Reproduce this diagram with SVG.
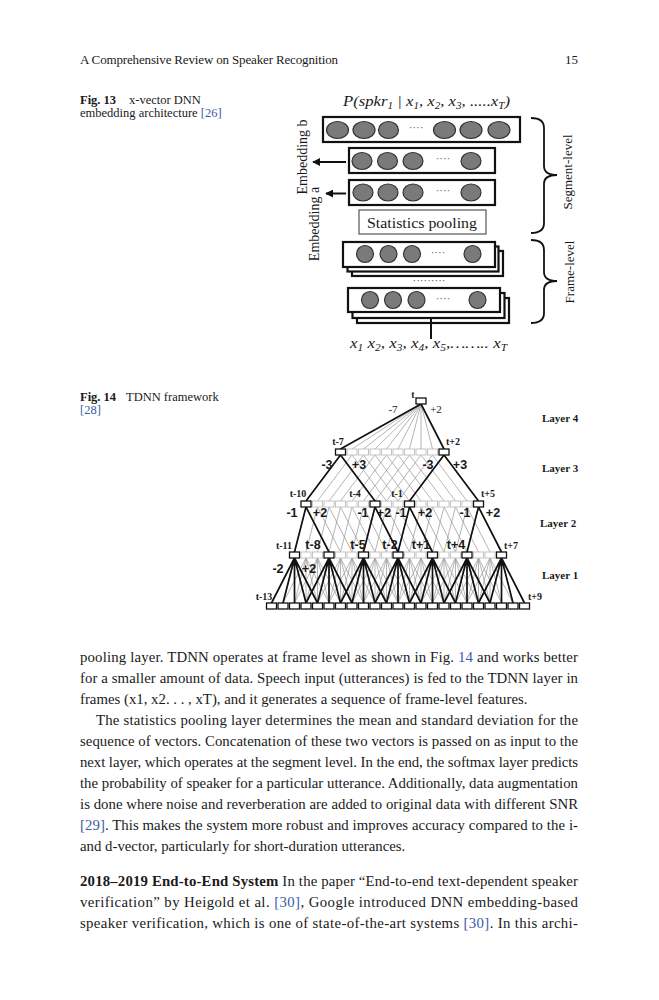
<svg xmlns="http://www.w3.org/2000/svg" width="659" height="1000" viewBox="0 0 659 1000">
<defs>
<style>
text{font-family:"Liberation Serif","Times New Roman",serif;fill:#1a1a1a}
.hdr{font-size:13px}
.cap{font-size:12.5px}
.bd{font-size:14.8px}
.b{font-weight:bold}
.lnk{fill:#3b5ba5}
.box{fill:#fff;stroke:#111;stroke-width:2.2}
.sp{fill:#fff;stroke:#555;stroke-width:1.2}
.el{fill:#7a7a7a;stroke:#333;stroke-width:1.2}
.dt{font-size:11px;fill:#555}
.brace{fill:none;stroke:#111;stroke-width:1.8}
.arr{stroke:#111;stroke-width:2;marker-end:url(#ah)}
.it{font-style:italic;font-size:15px}
.vt{font-size:14px}
.vs{font-size:13px}
.gl{stroke:#9c9c9c;stroke-width:0.75;fill:none}
.bl{stroke:#111;stroke-width:1.7;fill:none}
.gn{fill:#fff;stroke:#c4c4c4;stroke-width:1}
.bn{fill:#fff;stroke:#111;stroke-width:1.3}
.ls{font-family:"Liberation Sans",Arial,sans-serif;font-weight:bold;font-size:12.5px;text-anchor:middle}
.ss{font-weight:bold;font-size:10px;text-anchor:middle}
.sr{font-size:11px;text-anchor:middle}
.lay{font-weight:bold;font-size:11px}
</style>
<marker id="ah" viewBox="0 0 10 10" refX="9" refY="5" markerWidth="4" markerHeight="4" orient="auto"><path d="M0,0 L10,5 L0,10 z" fill="#111"/></marker>
<path id="f3" d="M0,0 L-34.5,46 M0,0 L34.5,46"/>
<path id="f2" d="M0,0 L-11.5,45 M0,0 L23,45"/>
<path id="f1" d="M0,0 L-23,45 M0,0 L-11.5,45 M0,0 L0,45 M0,0 L11.5,45 M0,0 L23,45"/>
<rect id="nd" x="-5" y="-3" width="10" height="6"/>
</defs>
<rect width="659" height="1000" fill="#fff"/>

<!-- page header -->
<g id="header">
<text class="hdr" x="80" y="64" textLength="258" lengthAdjust="spacing">A Comprehensive Review on Speaker Recognition</text>
<text class="hdr" x="578" y="64" text-anchor="end">15</text>
</g>

<!-- Fig 13 caption -->
<g id="cap13">
<text class="cap" x="80" y="104"><tspan class="b">Fig. 13</tspan><tspan x="129">x-vector DNN</tspan></text>
<text class="cap" x="80" y="117">embedding architecture <tspan class="lnk">[26]</tspan></text>
</g>

<!-- Fig 13 diagram -->
<g id="fig13">
<g id="title13"><text class="it" x="343" y="106" textLength="167" lengthAdjust="spacingAndGlyphs">P(spkr<tspan font-size="10" dy="3">1</tspan><tspan dy="-3">  | x</tspan><tspan font-size="10" dy="3">1</tspan><tspan dy="-3">, x</tspan><tspan font-size="10" dy="3">2</tspan><tspan dy="-3">, x</tspan><tspan font-size="10" dy="3">3</tspan><tspan dy="-3">, .....x</tspan><tspan font-size="10" dy="3">T</tspan><tspan dy="-3">)</tspan></text></g>

<g id="out-layer">
<rect class="box" x="323" y="117" width="197" height="25"/>
<ellipse class="el" cx="337.5" cy="130" rx="11" ry="8.5"/>
<ellipse class="el" cx="364" cy="130" rx="11" ry="8.5"/>
<ellipse class="el" cx="388.5" cy="130" rx="10" ry="8.5"/>
<text class="dt" x="416" y="131" text-anchor="middle">····</text>
<ellipse class="el" cx="444.5" cy="130" rx="11" ry="8.5"/>
<ellipse class="el" cx="471" cy="130" rx="11" ry="8.5"/>
<ellipse class="el" cx="499" cy="130" rx="11" ry="8.5"/>
</g>
<g id="emb-b">
<rect class="box" x="349" y="148" width="146" height="25"/>
<ellipse class="el" cx="362" cy="161" rx="10" ry="8.5"/>
<ellipse class="el" cx="387.5" cy="161" rx="10" ry="8.5"/>
<ellipse class="el" cx="413" cy="161" rx="10" ry="8.5"/>
<text class="dt" x="443" y="162" text-anchor="middle">····</text>
<ellipse class="el" cx="471" cy="161" rx="10" ry="8.5"/>
</g>
<g id="emb-a">
<rect class="box" x="349" y="180" width="146" height="25"/>
<ellipse class="el" cx="363" cy="192.5" rx="10" ry="8.5"/>
<ellipse class="el" cx="388" cy="192.5" rx="10" ry="8.5"/>
<ellipse class="el" cx="413" cy="192.5" rx="10" ry="8.5"/>
<text class="dt" x="443" y="194" text-anchor="middle">····</text>
<ellipse class="el" cx="471" cy="192.5" rx="10" ry="8.5"/>
</g>
<g id="stats-pooling">
<rect class="sp" x="359" y="210" width="127" height="24"/>
<text x="367" y="228" font-size="14.5" textLength="110" lengthAdjust="spacingAndGlyphs">Statistics pooling</text>
</g>
<g id="frame1">
<rect class="box" x="352" y="251" width="151" height="25"/>
<rect class="box" x="347.5" y="246.5" width="151" height="25"/>
<rect class="box" x="343" y="242" width="152" height="25"/>
<circle class="el" cx="365" cy="254" r="8.5"/>
<circle class="el" cx="388.5" cy="254" r="8.5"/>
<circle class="el" cx="412" cy="254" r="8.5"/>
<text class="dt" x="438" y="256" text-anchor="middle">····</text>
<circle class="el" cx="472.5" cy="254" r="8.5"/>
</g>
<text class="dt" x="429" y="284" text-anchor="middle">·········</text>
<g id="frame2">
<rect class="box" x="357" y="298" width="152" height="25"/>
<rect class="box" x="352.5" y="293" width="152" height="25"/>
<rect class="box" x="348" y="288" width="152" height="24"/>
<circle class="el" cx="370" cy="300" r="8.5"/>
<circle class="el" cx="393" cy="300" r="8.5"/>
<circle class="el" cx="416.5" cy="300" r="8.5"/>
<text class="dt" x="443" y="302" text-anchor="middle">····</text>
<circle class="el" cx="477.5" cy="300" r="8.5"/>
</g>
<g id="input13"><text class="it" x="350" y="348" textLength="157" lengthAdjust="spacingAndGlyphs">x<tspan font-size="10" dy="3">1</tspan><tspan dy="-3"> x</tspan><tspan font-size="10" dy="3">2</tspan><tspan dy="-3">, x</tspan><tspan font-size="10" dy="3">3</tspan><tspan dy="-3">, x</tspan><tspan font-size="10" dy="3">4</tspan><tspan dy="-3">, x</tspan><tspan font-size="10" dy="3">5</tspan><tspan dy="-3">,…….. x</tspan><tspan font-size="10" dy="3">T</tspan></text></g>

<g id="lbl-emb-b"><text class="vt" text-anchor="middle" transform="translate(307,157) rotate(-90)">Embedding b</text></g>
<g id="lbl-emb-a"><text class="vt" text-anchor="middle" transform="translate(319,224) rotate(-90)">Embedding a</text></g>
<g id="seg-level">
<path class="brace" d="M531,118 Q544,118 544,128 L544,166 Q544,175 557,175 Q544,175 544,184 L544,223 Q544,233 531,233"/>
<text class="vs" text-anchor="middle" transform="translate(572,172) rotate(-90)">Segment-level</text>
</g>
<g id="frame-level">
<path class="brace" d="M531,240 Q544,240 544,250 L544,272 Q544,281 557,281 Q544,281 544,290 L544,313 Q544,323 531,323"/>
<text class="vs" text-anchor="middle" transform="translate(574,272) rotate(-90)">Frame-level</text>
</g>
<g id="connectors13">
<line class="arr" x1="346" y1="162" x2="313" y2="162"/>
<line class="arr" x1="346" y1="193.5" x2="326" y2="193.5"/>
<line x1="431" y1="339" x2="431" y2="318" stroke="#111" stroke-width="2"/>
</g>
</g>

<!-- Fig 14 caption -->
<g id="cap14">
<text class="cap" x="80" y="401"><tspan class="b">Fig. 14</tspan><tspan x="126">TDNN framework</tspan></text>
<text class="cap lnk" x="80" y="414">[28]</text>
</g>

<!-- Fig 14 TDNN -->
<g id="fig14">
<g id="connectors14">
<g id="gray-lines">
<path class="gl" d="M421,404 L352,449 M421,404 L363.5,449 M421,404 L375,449 M421,404 L386.5,449 M421,404 L398,449 M421,404 L409.5,449 M421,404 L421,449 M421,404 L432.5,449"/>
<use href="#f3" class="gl" x="340.5" y="455"/><use href="#f3" class="gl" x="352" y="455"/><use href="#f3" class="gl" x="363.5" y="455"/><use href="#f3" class="gl" x="375" y="455"/><use href="#f3" class="gl" x="386.5" y="455"/><use href="#f3" class="gl" x="398" y="455"/><use href="#f3" class="gl" x="409.5" y="455"/><use href="#f3" class="gl" x="421" y="455"/><use href="#f3" class="gl" x="432.5" y="455"/><use href="#f3" class="gl" x="444" y="455"/>
<use href="#f2" class="gl" x="306" y="507"/><use href="#f2" class="gl" x="317.5" y="507"/><use href="#f2" class="gl" x="329" y="507"/><use href="#f2" class="gl" x="340.5" y="507"/><use href="#f2" class="gl" x="352" y="507"/><use href="#f2" class="gl" x="363.5" y="507"/><use href="#f2" class="gl" x="375" y="507"/><use href="#f2" class="gl" x="386.5" y="507"/><use href="#f2" class="gl" x="398" y="507"/><use href="#f2" class="gl" x="409.5" y="507"/><use href="#f2" class="gl" x="421" y="507"/><use href="#f2" class="gl" x="432.5" y="507"/><use href="#f2" class="gl" x="444" y="507"/><use href="#f2" class="gl" x="455.5" y="507"/><use href="#f2" class="gl" x="467" y="507"/><use href="#f2" class="gl" x="478.5" y="507"/>
<use href="#f1" class="gl" x="294.5" y="558"/><use href="#f1" class="gl" x="306" y="558"/><use href="#f1" class="gl" x="317.5" y="558"/><use href="#f1" class="gl" x="329" y="558"/><use href="#f1" class="gl" x="340.5" y="558"/><use href="#f1" class="gl" x="352" y="558"/><use href="#f1" class="gl" x="363.5" y="558"/><use href="#f1" class="gl" x="375" y="558"/><use href="#f1" class="gl" x="386.5" y="558"/><use href="#f1" class="gl" x="398" y="558"/><use href="#f1" class="gl" x="409.5" y="558"/><use href="#f1" class="gl" x="421" y="558"/><use href="#f1" class="gl" x="432.5" y="558"/><use href="#f1" class="gl" x="444" y="558"/><use href="#f1" class="gl" x="455.5" y="558"/><use href="#f1" class="gl" x="467" y="558"/><use href="#f1" class="gl" x="478.5" y="558"/><use href="#f1" class="gl" x="490" y="558"/><use href="#f1" class="gl" x="501.5" y="558"/>
</g>
<g id="black-lines">
<path class="bl" d="M421,404 L340.5,449 M421,404 L444,449"/>
<use href="#f3" class="bl" x="340.5" y="455"/><use href="#f3" class="bl" x="444" y="455"/>
<use href="#f2" class="bl" x="306" y="507"/><use href="#f2" class="bl" x="375" y="507"/><use href="#f2" class="bl" x="409.5" y="507"/><use href="#f2" class="bl" x="478.5" y="507"/>
<use href="#f1" class="bl" x="294.5" y="558"/><use href="#f1" class="bl" x="329" y="558"/><use href="#f1" class="bl" x="363.5" y="558"/><use href="#f1" class="bl" x="398" y="558"/><use href="#f1" class="bl" x="432.5" y="558"/><use href="#f1" class="bl" x="467" y="558"/><use href="#f1" class="bl" x="501.5" y="558"/>
</g>
</g>

<g id="layer4-nodes"><g id="n4-t"><use href="#nd" class="bn" x="421" y="401"/></g></g>
<g id="layer3-nodes">
<use href="#nd" class="gn" x="352" y="452"/><use href="#nd" class="gn" x="363.5" y="452"/><use href="#nd" class="gn" x="375" y="452"/><use href="#nd" class="gn" x="386.5" y="452"/><use href="#nd" class="gn" x="398" y="452"/><use href="#nd" class="gn" x="409.5" y="452"/><use href="#nd" class="gn" x="421" y="452"/><use href="#nd" class="gn" x="432.5" y="452"/>
<g id="n3-tm7"><use href="#nd" class="bn" x="340.5" y="452"/></g>
<g id="n3-tp2"><use href="#nd" class="bn" x="444" y="452"/></g>
</g>
<g id="layer2-nodes">
<use href="#nd" class="gn" x="317.5" y="504"/><use href="#nd" class="gn" x="329" y="504"/><use href="#nd" class="gn" x="340.5" y="504"/><use href="#nd" class="gn" x="352" y="504"/><use href="#nd" class="gn" x="363.5" y="504"/><use href="#nd" class="gn" x="386.5" y="504"/><use href="#nd" class="gn" x="398" y="504"/><use href="#nd" class="gn" x="421" y="504"/><use href="#nd" class="gn" x="432.5" y="504"/><use href="#nd" class="gn" x="444" y="504"/><use href="#nd" class="gn" x="455.5" y="504"/><use href="#nd" class="gn" x="467" y="504"/>
<g id="n2-tm10"><use href="#nd" class="bn" x="306" y="504"/></g>
<g id="n2-tm4"><use href="#nd" class="bn" x="375" y="504"/></g>
<g id="n2-tm1"><use href="#nd" class="bn" x="409.5" y="504"/></g>
<g id="n2-tp5"><use href="#nd" class="bn" x="478.5" y="504"/></g>
</g>
<g id="layer1-nodes">
<use href="#nd" class="gn" x="306" y="555"/><use href="#nd" class="gn" x="317.5" y="555"/><use href="#nd" class="gn" x="340.5" y="555"/><use href="#nd" class="gn" x="352" y="555"/><use href="#nd" class="gn" x="375" y="555"/><use href="#nd" class="gn" x="386.5" y="555"/><use href="#nd" class="gn" x="409.5" y="555"/><use href="#nd" class="gn" x="421" y="555"/><use href="#nd" class="gn" x="444" y="555"/><use href="#nd" class="gn" x="455.5" y="555"/><use href="#nd" class="gn" x="478.5" y="555"/><use href="#nd" class="gn" x="490" y="555"/>
<g id="n1-tm11"><use href="#nd" class="bn" x="294.5" y="555"/></g>
<g id="n1-tm8"><use href="#nd" class="bn" x="329" y="555"/></g>
<g id="n1-tm5"><use href="#nd" class="bn" x="363.5" y="555"/></g>
<g id="n1-tm2"><use href="#nd" class="bn" x="398" y="555"/></g>
<g id="n1-tp1"><use href="#nd" class="bn" x="432.5" y="555"/></g>
<g id="n1-tp4"><use href="#nd" class="bn" x="467" y="555"/></g>
<g id="n1-tp7"><use href="#nd" class="bn" x="501.5" y="555"/></g>
</g>
<g id="layer0-nodes">
<use href="#nd" class="bn" x="271.5" y="606"/><use href="#nd" class="bn" x="283" y="606"/><use href="#nd" class="bn" x="294.5" y="606"/><use href="#nd" class="bn" x="306" y="606"/><use href="#nd" class="bn" x="317.5" y="606"/><use href="#nd" class="bn" x="329" y="606"/><use href="#nd" class="bn" x="340.5" y="606"/><use href="#nd" class="bn" x="352" y="606"/><use href="#nd" class="bn" x="363.5" y="606"/><use href="#nd" class="bn" x="375" y="606"/><use href="#nd" class="bn" x="386.5" y="606"/><use href="#nd" class="bn" x="398" y="606"/><use href="#nd" class="bn" x="409.5" y="606"/><use href="#nd" class="bn" x="421" y="606"/><use href="#nd" class="bn" x="432.5" y="606"/><use href="#nd" class="bn" x="444" y="606"/><use href="#nd" class="bn" x="455.5" y="606"/><use href="#nd" class="bn" x="467" y="606"/><use href="#nd" class="bn" x="478.5" y="606"/><use href="#nd" class="bn" x="490" y="606"/><use href="#nd" class="bn" x="501.5" y="606"/><use href="#nd" class="bn" x="513" y="606"/><use href="#nd" class="bn" x="524.5" y="606"/>
</g>

<g id="labels14">
<text class="ss" x="413" y="398">t</text>
<text class="sr" x="393" y="413">-7</text>
<text class="sr" x="436" y="413">+2</text>
<text class="ss" x="338" y="445">t-7</text>
<text class="ss" x="453" y="445">t+2</text>
<text class="ls" x="327" y="469" font-size="13">-3</text>
<text class="ls" x="359" y="469" font-size="13">+3</text>
<text class="ls" x="428" y="469" font-size="13">-3</text>
<text class="ls" x="460" y="469" font-size="13">+3</text>
<text class="ss" x="298" y="497">t-10</text>
<text class="ss" x="355" y="497" font-size="11.5">t-4</text>
<text class="ss" x="397" y="497" font-size="11.5">t-1</text>
<text class="ss" x="488" y="497">t+5</text>
<text class="ls" x="292" y="517">-1</text>
<text class="ls" x="320" y="517">+2</text>
<text class="ls" x="363" y="517">-1</text>
<text class="ls" x="384" y="517">+2</text>
<text class="ls" x="401" y="517">-1</text>
<text class="ls" x="425" y="517">+2</text>
<text class="ls" x="465" y="517">-1</text>
<text class="ls" x="493" y="517">+2</text>
<text class="ss" x="284" y="549">t-11</text>
<text class="ls" x="313" y="549">t-8</text>
<text class="ls" x="358" y="549">t-5</text>
<text class="ls" x="390" y="549">t-2</text>
<text class="ls" x="421" y="549">t+1</text>
<text class="ls" x="456" y="549">t+4</text>
<text class="ss" x="511" y="549">t+7</text>
<text class="ls" x="278" y="573">-2</text>
<text class="ls" x="309" y="573">+2</text>
<text class="ss" x="264" y="600">t-13</text>
<text class="ss" x="535" y="600">t+9</text>
<text class="lay" x="542" y="422">Layer 4</text>
<text class="lay" x="542" y="472">Layer 3</text>
<text class="lay" x="540" y="527">Layer 2</text>
<text class="lay" x="542" y="579">Layer 1</text>
</g>
</g>

<!-- body text -->
<g id="body">
<text class="bd" x="80" y="662" textLength="498" lengthAdjust="spacing">pooling layer. TDNN operates at frame level as shown in Fig. <tspan class="lnk">14</tspan> and works better</text>
<text class="bd" x="80" y="683" textLength="498" lengthAdjust="spacing">for a smaller amount of data. Speech input (utterances) is fed to the TDNN layer in</text>
<text class="bd" x="80" y="704">frames (x1, x2. . . , xT), and it generates a sequence of frame-level features.</text>
<text class="bd" x="96" y="725" textLength="482" lengthAdjust="spacing">The statistics pooling layer determines the mean and standard deviation for the</text>
<text class="bd" x="80" y="746" textLength="498" lengthAdjust="spacing">sequence of vectors. Concatenation of these two vectors is passed on as input to the</text>
<text class="bd" x="80" y="767" textLength="498" lengthAdjust="spacing">next layer, which operates at the segment level. In the end, the softmax layer predicts</text>
<text class="bd" x="80" y="788" textLength="498" lengthAdjust="spacing">the probability of speaker for a particular utterance. Additionally, data augmentation</text>
<text class="bd" x="80" y="809" textLength="498" lengthAdjust="spacing">is done where noise and reverberation are added to original data with different SNR</text>
<text class="bd" x="80" y="830" textLength="498" lengthAdjust="spacing"><tspan class="lnk">[29]</tspan>. This makes the system more robust and improves accuracy compared to the i-</text>
<text class="bd" x="80" y="851">and d-vector, particularly for short-duration utterances.</text>
<text class="bd" x="80" y="886" textLength="498" lengthAdjust="spacing"><tspan class="b">2018–2019 End-to-End System</tspan>  In the paper “End-to-end text-dependent speaker</text>
<text class="bd" x="80" y="907" textLength="498" lengthAdjust="spacing">verification” by Heigold et al. <tspan class="lnk">[30]</tspan>, Google introduced DNN embedding-based</text>
<text class="bd" x="80" y="928" textLength="498" lengthAdjust="spacing">speaker verification, which is one of state-of-the-art systems <tspan class="lnk">[30]</tspan>. In this archi-</text>
</g>
</svg>
